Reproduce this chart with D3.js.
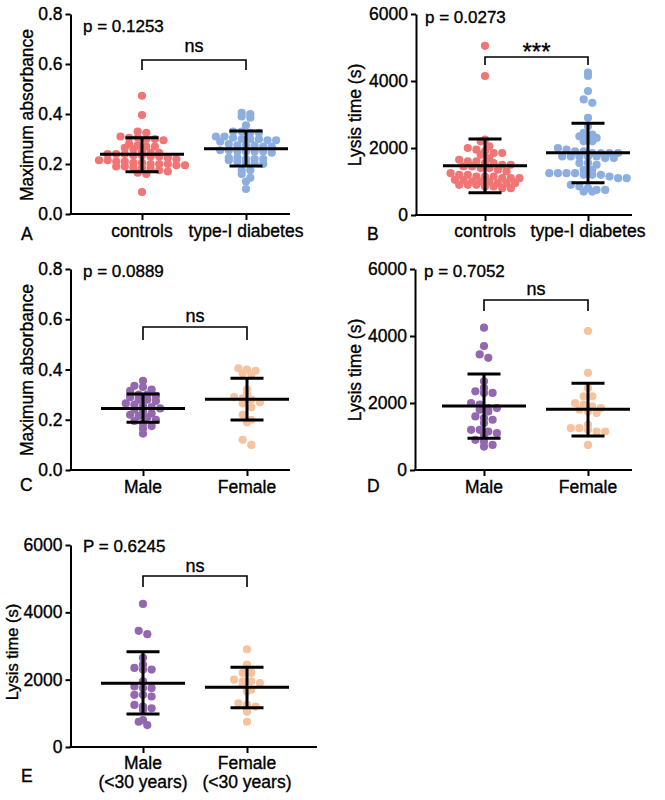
<!DOCTYPE html>
<html><head><meta charset="utf-8">
<script src="https://cdn.jsdelivr.net/npm/d3@7"></script>
<style>body{margin:0;background:#fff} text{font-family:"Liberation Sans",Arial,sans-serif;fill:#000;stroke:#000;stroke-width:0.35px}</style>
</head><body>
<svg id="c" width="665" height="800"></svg>
<script>
// ---- tick labels / categories ----
const absTicks = [0, 0.2, 0.4, 0.6, 0.8];
const lysisTicks = [0, 2000, 4000, 6000];
const catsDiab = ["controls", "type-I diabetes"];
const catsSex = ["Male", "Female"];
const catsSexU30 = [["Male", "(<30 years)"], ["Female", "(<30 years)"]];
const pTexts = ["p = 0.1253", "p = 0.0273", "p = 0.0889", "p = 0.7052", "P = 0.6245"];
const sigTexts = ["ns", "***", "ns", "ns", "ns"];

// ---- series values ----
const absControls = [0.473, 0.396, 0.33, 0.325, 0.31, 0.305, 0.305, 0.30, 0.30, 0.295, 0.28, 0.275, 0.27, 0.27, 0.265, 0.26, 0.25, 0.245, 0.245, 0.24, 0.24, 0.24, 0.235, 0.235, 0.23, 0.23, 0.225, 0.22, 0.215, 0.215, 0.21, 0.21, 0.205, 0.205, 0.2, 0.2, 0.2, 0.195, 0.195, 0.19, 0.19, 0.185, 0.185, 0.18, 0.175, 0.17, 0.165, 0.16, 0.088];
const absDiabetes = [0.405, 0.40, 0.39, 0.385, 0.355, 0.33, 0.33, 0.325, 0.325, 0.31, 0.31, 0.305, 0.30, 0.30, 0.30, 0.295, 0.295, 0.29, 0.28, 0.275, 0.275, 0.275, 0.27, 0.27, 0.255, 0.255, 0.25, 0.25, 0.25, 0.25, 0.245, 0.225, 0.225, 0.22, 0.22, 0.22, 0.215, 0.21, 0.205, 0.205, 0.2, 0.175, 0.175, 0.16, 0.145, 0.13, 0.10];
const lysisControls = [5050, 4150, 2250, 2200, 2050, 2000, 1950, 1900, 1850, 1850, 1800, 1700, 1650, 1600, 1600, 1550, 1550, 1500, 1500, 1450, 1450, 1400, 1400, 1350, 1300, 1250, 1200, 1200, 1150, 1150, 1150, 1100, 1100, 1100, 1050, 1050, 1000, 1000, 1000, 950, 950, 950, 900, 900, 900, 850, 850, 800, 800];
const lysisDiabetes = [4250, 4150, 3700, 3450, 3350, 2900, 2650, 2450, 2400, 2350, 2300, 2300, 2200, 2200, 2000, 1950, 1900, 1900, 1850, 1850, 1850, 1850, 1750, 1750, 1750, 1750, 1750, 1700, 1700, 1550, 1550, 1500, 1350, 1350, 1250, 1250, 1250, 1250, 1200, 1200, 1200, 1150, 1100, 1100, 900, 850, 800, 750, 750, 700, 700];
const absMale = [0.355, 0.335, 0.33, 0.32, 0.315, 0.30, 0.30, 0.295, 0.29, 0.28, 0.28, 0.275, 0.265, 0.26, 0.255, 0.25, 0.245, 0.24, 0.235, 0.225, 0.22, 0.215, 0.21, 0.20, 0.195, 0.185, 0.175, 0.165, 0.145];
const absFemale = [0.405, 0.40, 0.395, 0.385, 0.38, 0.32, 0.30, 0.29, 0.285, 0.28, 0.27, 0.265, 0.25, 0.22, 0.20, 0.19, 0.12, 0.10];
const lysisMale = [4250, 3700, 3450, 3350, 2650, 2450, 2350, 2300, 2300, 2000, 1950, 1850, 1850, 1800, 1750, 1600, 1550, 1500, 1400, 1200, 1200, 1150, 1100, 1050, 900, 850, 750, 700];
const lysisFemale = [4150, 2900, 2450, 2200, 2200, 2000, 1950, 1900, 1850, 1800, 1750, 1700, 1350, 1250, 1250, 1200, 1150, 1150, 750];
const lysisMaleU30 = [4250, 3450, 3350, 2650, 2450, 2350, 2300, 2300, 1950, 1800, 1750, 1750, 1550, 1550, 1500, 1250, 1200, 1150, 1100, 800, 750, 650];
const lysisFemaleU30 = [2900, 2450, 2250, 2200, 2200, 2000, 1950, 1950, 1900, 1850, 1700, 1650, 1300, 1250, 1200, 1050, 750];

// ---- mean and SD ----
const meanA = [0.239, 0.261], sdLowA = [0.169, 0.192], sdHighA = [0.305, 0.332];
const meanB = [1472, 1860], sdLowB = [666, 965], sdHighB = [2269, 2737];
const meanC = [0.245, 0.282], sdLowC = [0.19, 0.199], sdHighC = [0.302, 0.365];
const meanD = [1910, 1811], sdLowD = [945, 1015], sdHighD = [2866, 2587];
const meanE = [1891, 1772], sdLowE = [980, 1168], sdHighE = [2831, 2366];

const RED = "#f07575", BLUE = "#8dafe0", PURPLE = "#9468ae", PEACH = "#f6c39f";

// ---- panel layout ----
const panels = [
  {letter:"A", ox:70.5, top:14, bottom:214, xEnd:290, c:[142,246], ticks:absTicks, fmt:d3.format(".1f"), ylab:"Maximum absorbance", ylabX:33, ylabY:115, ylabFs:17.5,
   series:[absControls, absDiabetes], colors:[RED, BLUE], mean:meanA, lo:sdLowA, hi:sdHighA, cats:catsDiab.map(d=>[d]), catY:237,
   p:pTexts[0], pX:83, pY:32, sig:sigTexts[0], brY:60, legY:70, sigY:51.5, sigFs:18, letX:21, letY:240},
  {letter:"B", ox:416, top:14, bottom:215, xEnd:632, c:[485,588], ticks:lysisTicks, fmt:d3.format("d"), ylab:"Lysis time (s)", ylabX:361, ylabY:115, ylabFs:17.5,
   series:[lysisControls, lysisDiabetes], colors:[RED, BLUE], mean:meanB, lo:sdLowB, hi:sdHighB, cats:catsDiab.map(d=>[d]), catY:237,
   p:pTexts[1], pX:425, pY:23, sig:sigTexts[1], brY:57, legY:65, sigY:60, sigFs:24, letX:367, letY:240},
  {letter:"C", ox:70.5, top:269, bottom:470, xEnd:290, c:[143,247], ticks:absTicks, fmt:d3.format(".1f"), ylab:"Maximum absorbance", ylabX:33, ylabY:370, ylabFs:17.5,
   series:[absMale, absFemale], colors:[PURPLE, PEACH], mean:meanC, lo:sdLowC, hi:sdHighC, cats:catsSex.map(d=>[d]), catY:493,
   p:pTexts[2], pX:83, pY:277, sig:sigTexts[2], brY:327, legY:340, sigY:322, sigFs:18, letX:20, letY:491},
  {letter:"D", ox:415, top:269, bottom:470, xEnd:632, c:[484,588], ticks:lysisTicks, fmt:d3.format("d"), ylab:"Lysis time (s)", ylabX:361, ylabY:370, ylabFs:17.5,
   series:[lysisMale, lysisFemale], colors:[PURPLE, PEACH], mean:meanD, lo:sdLowD, hi:sdHighD, cats:catsSex.map(d=>[d]), catY:493,
   p:pTexts[3], pX:424, pY:277, sig:sigTexts[3], brY:300, legY:311, sigY:295, sigFs:18, letX:367, letY:492},
  {letter:"E", ox:70.5, top:545, bottom:747, xEnd:317, c:[143,247], ticks:lysisTicks, fmt:d3.format("d"), ylab:"Lysis time (s)", ylabX:18, ylabY:652, ylabFs:16.5,
   series:[lysisMaleU30, lysisFemaleU30], colors:[PURPLE, PEACH], mean:meanE, lo:sdLowE, hi:sdHighE, cats:catsSexU30, catY:769,
   p:pTexts[4], pX:83, pY:552, sig:sigTexts[4], brY:576, legY:587, sigY:572, sigFs:18, letX:21, letY:782}
];

const R = 4.1, BIN = 6.2, STEP = 8.6;
// row-binned scatter layout: points in the same row are spread evenly about the category centre
function rowLayout(ys, top) {
  const bins = d3.group(ys.map((y, i) => i), i => Math.round((ys[i] - top) / BIN));
  const xs = new Array(ys.length);
  for (const [, idx] of bins) {
    idx.sort((a, b) => ys[a] - ys[b]);
    const n = idx.length;
    // centre-out order so the row looks balanced
    const slots = d3.range(n).map(k => (k - (n - 1) / 2) * STEP);
    idx.forEach((i, k) => { xs[i] = slots[k]; });
  }
  return xs;
}

const svg = d3.select("#c");
panels.forEach(P => {
  const g = svg.append("g");
  const y = d3.scaleLinear().domain([0, P.ticks[P.ticks.length-1]]).range([P.bottom, P.top]);
  const x = d3.scalePoint().domain([0,1]).range(P.c);

  // y axis
  const ya = g.append("g").attr("transform", `translate(${P.ox},0)`)
    .call(d3.axisLeft(y).tickValues(P.ticks).tickFormat(P.fmt).tickSize(5).tickPadding(3).tickSizeOuter(0));
  ya.selectAll("path,line").attr("stroke", "#000").attr("stroke-width", 2);
  ya.selectAll("text").attr("font-size", 17.5).attr("font-family", "Liberation Sans, Arial, sans-serif").attr("fill", "#000");

  // x axis
  g.append("line").attr("x1", P.ox - 1).attr("x2", P.xEnd).attr("y1", P.bottom).attr("y2", P.bottom)
    .attr("stroke", "#000").attr("stroke-width", 2);
  const xa = g.append("g").attr("transform", `translate(0,${P.bottom})`)
    .call(d3.axisBottom(x).tickSize(6).tickFormat(""));
  xa.select(".domain").remove();
  xa.selectAll("line").attr("stroke", "#000").attr("stroke-width", 2);

  // category labels
  P.cats.forEach((lines, i) => {
    const t = g.append("text").attr("x", x(i)).attr("y", P.catY).attr("text-anchor", "middle").attr("font-size", 17.5);
    lines.forEach((s, k) => t.append("tspan").attr("x", x(i)).attr("dy", k === 0 ? 0 : 18.5).text(s));
  });

  // y label
  g.append("text").attr("transform", `translate(${P.ylabX},${P.ylabY}) rotate(-90)`)
    .attr("text-anchor", "middle").attr("font-size", P.ylabFs).text(P.ylab);

  // dots
  P.series.forEach((vals, i) => {
    const ys = vals.map(v => y(v));
    const xs = rowLayout(ys, P.top);
    g.append("g").selectAll("circle").data(vals).join("circle")
      .attr("cx", (d, k) => x(i) + xs[k]).attr("cy", d => y(d)).attr("r", R).attr("fill", P.colors[i]);
  });

  // mean / SD bars
  [0,1].forEach(i => {
    const cx = x(i);
    const eb = g.append("g").attr("stroke", "#000").attr("stroke-width", 3);
    eb.append("line").attr("x1", cx-42).attr("x2", cx+42).attr("y1", y(P.mean[i])).attr("y2", y(P.mean[i]));
    eb.append("line").attr("x1", cx).attr("x2", cx).attr("y1", y(P.lo[i])).attr("y2", y(P.hi[i]));
    eb.append("line").attr("x1", cx-16.5).attr("x2", cx+16.5).attr("y1", y(P.lo[i])).attr("y2", y(P.lo[i]));
    eb.append("line").attr("x1", cx-16.5).attr("x2", cx+16.5).attr("y1", y(P.hi[i])).attr("y2", y(P.hi[i]));
  });

  // bracket
  g.append("path").attr("d", `M${x(0)},${P.legY}V${P.brY}H${x(1)}V${P.legY}`)
    .attr("fill", "none").attr("stroke", "#000").attr("stroke-width", 1.6);
  g.append("text").attr("x", (x(0)+x(1))/2).attr("y", P.sigY).attr("text-anchor", "middle")
    .attr("font-size", P.sigFs).text(P.sig);

  // p value
  g.append("text").attr("x", P.pX).attr("y", P.pY).attr("font-size", 17).text(P.p);

  // panel letter
  g.append("text").attr("x", P.letX).attr("y", P.letY).attr("font-size", 17.5).text(P.letter);
});
</script>
</body></html>
